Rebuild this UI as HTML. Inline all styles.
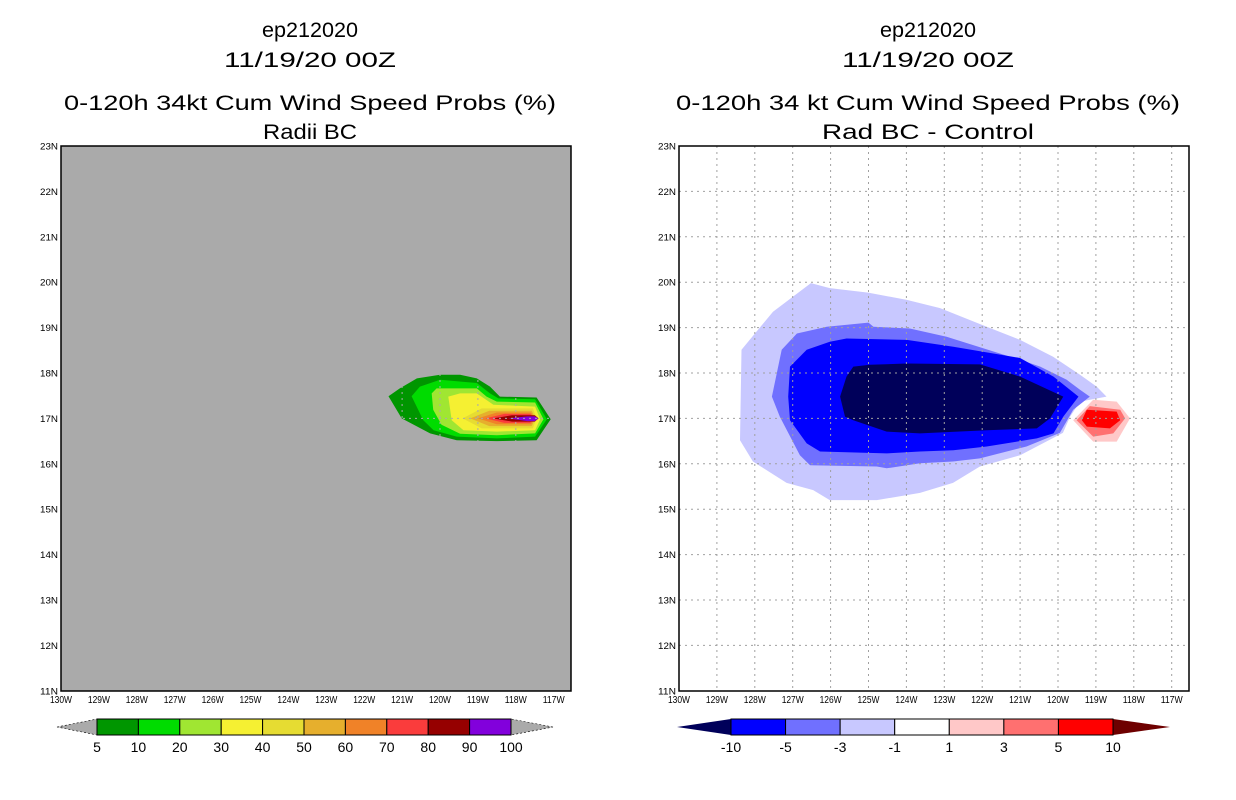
<!DOCTYPE html>
<html><head><meta charset="utf-8"><style>
html,body{margin:0;padding:0;background:#fff;}
svg{display:block;font-family:"Liberation Sans",sans-serif;}
</style></head><body>
<svg id="c" width="1236" height="800" viewBox="0 0 1236 800"></svg>
<script>
// ---- data ----
const lonTicks=[-130,-129,-128,-127,-126,-125,-124,-123,-122,-121,-120,-119,-118,-117];
const latTicks=[11,12,13,14,15,16,17,18,19,20,21,22,23];
const leftLevels=['5','10','20','30','40','50','60','70','80','90','100'];
const leftColors=['#009600','#00dc00','#a0e632','#f5f032','#e6dc32','#e6af2d','#f08228','#fa3c3c','#960000','#8200dc'];
const rightLevels=['-10','-5','-3','-1','1','3','5','10'];
const rightColors=['#00005a','#0000ff','#7070ff','#c8c8ff','#ffffff','#ffc8c8','#ff7070','#ff0000','#6e0000'];
// left contours (lon,lat)
const L5=[[-121.36,17.49],[-121.06,17.66],[-120.61,17.88],[-120.0,17.96],[-119.47,17.96],[-119.03,17.88],[-118.68,17.70],[-118.42,17.48],[-117.45,17.46],[-117.08,16.98],[-117.45,16.52],[-118.5,16.5],[-119.56,16.52],[-120.26,16.67],[-121.01,17.0]];
const L10=[[-120.75,17.49],[-120.53,17.70],[-120.0,17.85],[-119.03,17.78],[-118.68,17.55],[-118.46,17.44],[-117.49,17.42],[-117.18,16.98],[-117.49,16.60],[-118.5,16.56],[-119.56,16.60],[-120.17,16.74],[-120.44,16.96]];
const L20=[[-120.22,17.55],[-120.09,17.66],[-119.03,17.66],[-118.77,17.48],[-118.5,17.37],[-117.49,17.35],[-117.27,16.98],[-117.49,16.67],[-118.5,16.63],[-119.47,16.66],[-119.96,16.86],[-120.18,17.19]];
const L30=[[-119.78,17.48],[-119.47,17.55],[-119.03,17.55],[-118.59,17.30],[-117.49,17.26],[-117.36,16.98],[-117.49,16.74],[-118.5,16.71],[-119.38,16.74],[-119.69,16.96]];
const bandW=[-119.4,-119.2,-119.0,-118.8,-118.6,-118.2];
const bandE=[-117.55,-117.58,-117.6,-117.62,-117.5,-117.5];
const bandTop=[17.22,17.17,17.13,17.1,17.07,17.045];
const bandBot=[16.78,16.83,16.87,16.9,16.93,16.94];
// right contours
const R1=[[-126.52,19.98],[-126.02,19.87],[-125.01,19.77],[-123.99,19.61],[-123.11,19.43],[-121.88,19.02],[-121.0,18.73],[-120.13,18.36],[-119.42,17.96],[-118.98,17.70],[-118.72,17.48],[-119.42,17.37],[-119.68,17.04],[-119.87,16.68],[-121.0,16.19],[-122.06,15.94],[-122.77,15.58],[-123.64,15.36],[-124.78,15.20],[-126.02,15.20],[-126.46,15.42],[-127.16,15.58],[-128.05,16.05],[-128.39,16.52],[-128.35,18.51],[-127.52,19.35]];
const R3=[[-126.10,19.02],[-125.0,19.11],[-124.87,19.02],[-123.91,18.98],[-122.94,18.80],[-121.0,18.29],[-120.47,18.14],[-119.77,17.85],[-119.42,17.63],[-119.16,17.48],[-119.6,17.19],[-119.95,16.68],[-120.83,16.38],[-122.06,16.12],[-122.77,16.05],[-123.64,16.01],[-124.52,15.90],[-124.78,15.94],[-126.54,15.97],[-126.81,16.19],[-127.34,17.04],[-127.55,17.48],[-127.29,18.51],[-126.89,18.87]];
const R5=[[-127.07,18.14],[-126.63,18.51],[-126.02,18.69],[-125.58,18.76],[-123.99,18.73],[-122.76,18.58],[-121.0,18.33],[-120.12,17.92],[-119.46,17.48],[-119.86,17.04],[-120.12,16.67],[-120.56,16.56],[-121.88,16.38],[-122.76,16.30],[-123.64,16.27],[-124.52,16.23],[-126.28,16.27],[-126.63,16.45],[-127.07,16.96],[-127.12,17.48]];
const R10=[[-125.40,18.14],[-124.96,18.18],[-123.99,18.21],[-122.06,18.19],[-121.0,17.92],[-119.86,17.48],[-120.21,17.0],[-120.56,16.78],[-121.88,16.74],[-123.64,16.67],[-124.52,16.71],[-125.40,16.96],[-125.62,17.04],[-125.75,17.48],[-125.58,17.92]];
const P1=[[-119.07,17.41],[-118.45,17.37],[-118.10,17.0],[-118.45,16.49],[-119.07,16.49],[-119.6,16.96]];
const P3=[[-119.16,17.27],[-118.36,17.19],[-118.23,17.0],[-118.54,16.67],[-119.07,16.60],[-119.51,16.96]];
const P5=[[-119.24,17.19],[-118.45,17.15],[-118.36,16.96],[-118.63,16.78],[-119.24,16.82],[-119.37,16.96]];

const NS='http://www.w3.org/2000/svg';
const svg=document.getElementById('c');
function mk(tag,attrs,parent){const e=document.createElementNS(NS,tag);for(const k in attrs)e.setAttribute(k,attrs[k]);(parent||svg).appendChild(e);return e;}
const PX=37.9, PY=45.4, TOP=146, BOT=691;
function xs(x0){return lon=>x0+(lon+130)*PX;}
function ys(lat){return TOP+(23-lat)*PY;}
function poly(pts,sx,fill,g,name){const p=mk('polygon',{points:pts.map(q=>sx(q[0]).toFixed(1)+','+ys(q[1]).toFixed(1)).join(' '),fill:fill},g);

}
function txt(s,x,y,size,anchor,g,name,len){const t=mk('text',{x:x,y:y,'font-size':size,'text-anchor':anchor||'middle',fill:'#000'},g);if(len){t.setAttribute('textLength',len);t.setAttribute('lengthAdjust','spacingAndGlyphs');}t.textContent=s;

return t;}

function panel(x0,bg,titles,name){
  const g=mk('g',{});
  
  
  const sx=xs(x0);
  const cx=x0+249;
  txt(titles[0],cx,37,21,'middle',g,'title-storm-id',titles[4]);
  txt(titles[1],cx,67,21,'middle',g,'title-date',titles[5]);
  txt(titles[2],cx,110,21,'middle',g,'title-product',titles[6]);
  txt(titles[3],cx,139,21,'middle',g,'subtitle',titles[7]);
  const clip=mk('clipPath',{id:'cl'+x0},g);mk('rect',{x:x0,y:TOP,width:510,height:BOT-TOP},clip);
  const r=mk('rect',{x:x0,y:TOP,width:510,height:BOT-TOP,fill:bg},g);
  
  
  const fg=mk('g',{'clip-path':'url(#cl'+x0+')'},g);
  
  
  return {g,sx,fg};
}
// left panel
const Lp=panel(61,'#aaaaaa',['ep212020','11/19/20 00Z','0-120h 34kt Cum Wind Speed Probs (%)','Radii BC',96,172,492,94],'left-panel');
[[L5,0],[L10,1],[L20,2],[L30,3]].forEach(([p,i])=>poly(p,Lp.sx,leftColors[i],Lp.fg,'contour-'+leftLevels[i]));
bandW.forEach((w,i)=>{const e=bandE[i],t=bandTop[i],b=bandBot[i];
 poly([[w,17.0],[w+0.5,t],[e,t],[e+0.1,17.0],[e,b],[w+0.5,b]],Lp.sx,leftColors[4+i],Lp.fg,'contour-'+leftLevels[4+i]);});
// right panel
const Rp=panel(679,'#ffffff',['ep212020','11/19/20 00Z','0-120h 34 kt Cum Wind Speed Probs (%)','Rad BC - Control',96,172,504,212],'right-panel');
[[R1,3],[R3,2],[R5,1],[R10,0]].forEach(([p,i])=>poly(p,Rp.sx,rightColors[i],Rp.fg,'contour-'+rightLevels[i]));
[[P1,5],[P3,6],[P5,7]].forEach(([p,i])=>poly(p,Rp.sx,rightColors[i],Rp.fg,'contour-pos-'+i));

function axes(P,x0,gridColor){
  lonTicks.forEach(l=>{const x=P.sx(l);
    if(l>-130){const gl=mk('line',{x1:x,x2:x,y1:TOP,y2:BOT,stroke:gridColor,'stroke-width':1,'stroke-dasharray':'2,4'},P.fg);
    
    }
    txt(Math.abs(l)+'W',x,703,10,'middle',P.g,'x-tick-label',22);});
  latTicks.forEach(l=>{const y=ys(l);
    if(l>11&&l<23){const gl=mk('line',{x1:x0,x2:x0+510,y1:y,y2:y,stroke:gridColor,'stroke-width':1,'stroke-dasharray':'2,4'},P.fg);
    
    }
    txt(l+'N',x0-3,y+3.5,9,'end',P.g,'y-tick-label',18);});
  const b=mk('rect',{x:x0,y:TOP,width:510,height:BOT-TOP,fill:'none',stroke:'#000','stroke-width':1.5},P.g);
  
  
}
axes(Lp,61,'#aaaaaa');
axes(Rp,679,'#a0a0a0');

// colorbars
function colorbar(x0,x1,tL,tR,colors,levels,leftTri,rightTri,name,dashed){
  const g=mk('g',{});
  
  
  const n=colors.length, w=(x1-x0)/n, y0=719,y1=735,ym=727;
  const a=mk('polygon',{points:`${tL},${ym} ${x0},${y0} ${x0},${y1}`,fill:leftTri,stroke:dashed?'#000':'none','stroke-width':dashed?0.6:0,'stroke-dasharray':dashed?'2,2':''},g);
  
  
  const b=mk('polygon',{points:`${tR},${ym} ${x1},${y0} ${x1},${y1}`,fill:rightTri,stroke:dashed?'#000':'none','stroke-width':dashed?0.6:0,'stroke-dasharray':dashed?'2,2':''},g);
  
  
  colors.forEach((c,i)=>{const r=mk('rect',{x:x0+i*w,y:y0,width:w,height:y1-y0,fill:c,stroke:'#000','stroke-width':1},g);
    
    });
  levels.forEach((s,i)=>txt(s,x0+i*w,752,14,'middle',g,'colorbar-label'));
}
colorbar(97,511,57,553,leftColors,leftLevels,'#aaaaaa','#aaaaaa','left-colorbar',true);
colorbar(731,1113,677,1170,rightColors.slice(1,8),rightLevels,rightColors[0],rightColors[8],'right-colorbar',false);
</script>
</body></html>
